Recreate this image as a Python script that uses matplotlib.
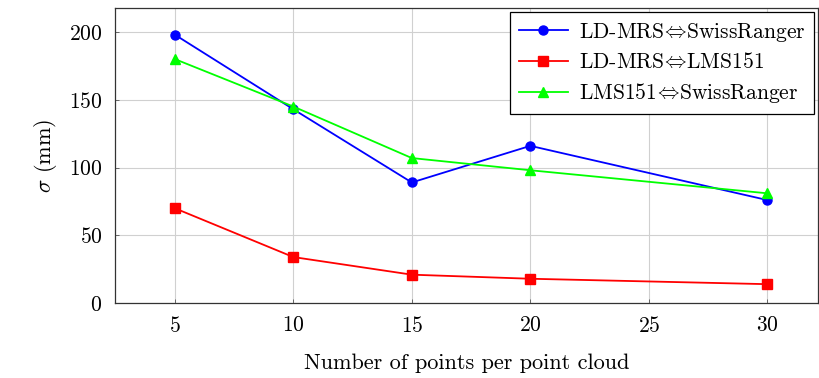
import matplotlib
matplotlib.use("Agg")
import matplotlib.pyplot as plt

plt.rcParams["font.family"] = ["cmr10", "DejaVu Serif"]
plt.rcParams["mathtext.fontset"] = "cm"
plt.rcParams["axes.formatter.use_mathtext"] = True

points = [5, 10, 15, 20, 30]
ldmrs_swiss = [198, 143, 89, 116, 76]
ldmrs_lms = [70, 34, 21, 18, 14]
lms_swiss = [180, 145, 107, 98, 81]

x_ticks = [5, 10, 15, 20, 25, 30]
y_ticks = [0, 50, 100, 150, 200]

fig = plt.figure(figsize=(8.2, 3.78), dpi=100)
ax = fig.add_axes([0.140, 0.198, 0.858, 0.781])

ax.plot(points, ldmrs_swiss, color="#0000ff", marker="o", markersize=6.5,
        linewidth=1.3, label=r"LD-MRS$\!\Leftrightarrow\!$SwissRanger")
ax.plot(points, ldmrs_lms, color="#ff0000", marker="s", markersize=6.5,
        linewidth=1.3, label=r"LD-MRS$\!\Leftrightarrow\!$LMS151")
ax.plot(points, lms_swiss, color="#00ff00", marker="^", markersize=6.5,
        linewidth=1.3, label=r"LMS151$\!\Leftrightarrow\!$SwissRanger")

ax.set_xlim(2.47, 32.15)
ax.set_ylim(0, 217.7)
ax.set_xticks(x_ticks)
ax.set_yticks(y_ticks)
ax.grid(True, color="#d0d0d0", linewidth=0.8)
ax.set_axisbelow(True)
ax.tick_params(direction="in", length=3, width=0.6, color="#555555",
               labelsize=15.5, pad=9)
for s in ax.spines.values():
    s.set_linewidth(0.9)
    s.set_color("#333333")

ax.set_xlabel("Number of points per point cloud", fontsize=16, labelpad=13)
ax.set_ylabel(r"$\sigma$ (mm)", fontsize=16, labelpad=7)

leg = ax.legend(loc="upper right", fontsize=15.5, frameon=True, fancybox=False,
                edgecolor="black", framealpha=1, borderaxespad=0.2,
                handlelength=2.3, handletextpad=0.5, labelspacing=0.4,
                borderpad=0.4)
leg.get_frame().set_linewidth(0.9)

fig.savefig("out.png", dpi=100)
